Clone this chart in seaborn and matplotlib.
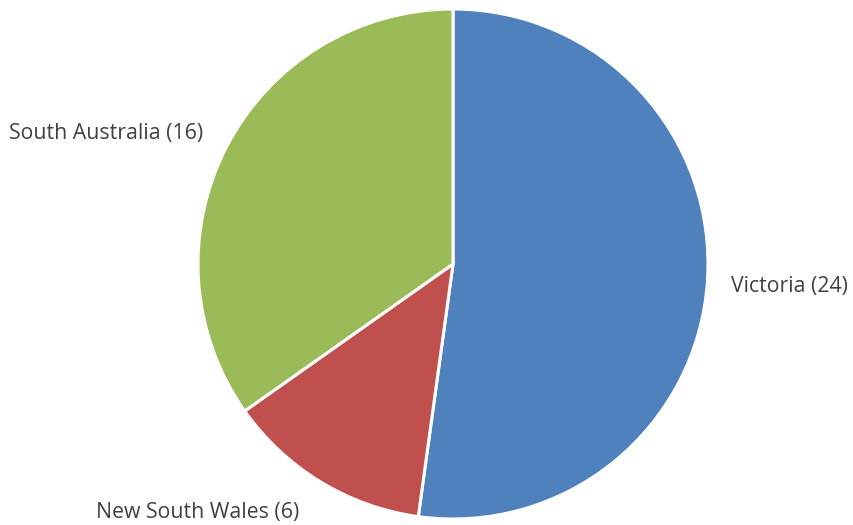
import matplotlib
matplotlib.use("Agg")
import matplotlib.pyplot as plt
import seaborn as sns

sns.set_style("white")
plt.rcParams['font.family'] = ['Open Sans', 'DejaVu Sans']

states = ['Victoria', 'New South Wales', 'South Australia']
counts = [24, 6, 16]
colours = ['#4F81BD', '#C0504D', '#9BBB59']

fig = plt.figure(figsize=(8.54, 5.25), dpi=100)
ax = fig.add_axes([(453 - 255) / 854, 6 / 525, 510 / 854, 510 / 525])

wedges, _ = ax.pie(counts, colors=colours, startangle=90, counterclock=False,
                   wedgeprops=dict(edgecolor='white', linewidth=2.2))
ax.set_xlim(-1, 1)
ax.set_ylim(-1, 1)
ax.set_aspect('equal')

labels = [f'{s} ({c})' for s, c in zip(states, counts)]
txt = dict(fontsize=15.3, color='#404040', va='center')
ax.text(1.09, -0.088, labels[0], ha='left', **txt)
ax.text(-1.0, -0.975, labels[1], ha='center', **txt)
ax.text(-0.98, 0.51, labels[2], ha='right', **txt)

fig.savefig('out.png', dpi=100)
